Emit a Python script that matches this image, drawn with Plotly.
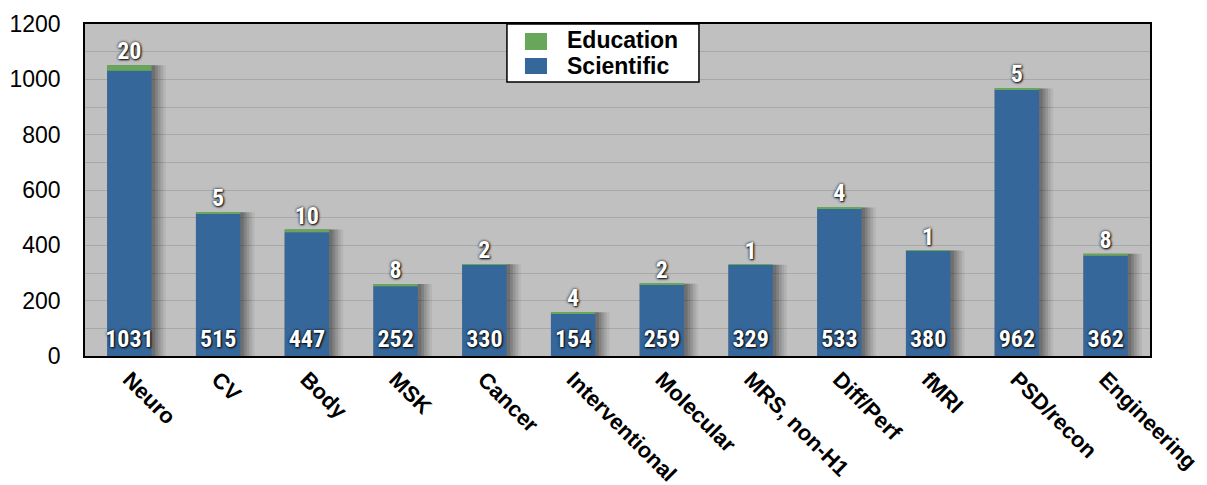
import plotly.graph_objects as go

categories = ["Neuro", "CV", "Body", "MSK", "Cancer", "Interventional", "Molecular",
              "MRS, non-H1", "Diff/Perf", "fMRI", "PSD/recon", "Engineering"]
scientific = [1031, 515, 447, 252, 330, 154, 259, 329, 533, 380, 962, 362]
education = [20, 5, 10, 8, 2, 4, 2, 1, 4, 1, 5, 8]
series_names = ["Education", "Scientific"]
totals = [s + e for s, e in zip(scientific, education)]

BLUE = "#36679b"
GREEN = "#68a659"
LABEL_FONT = "Liberation Sans Narrow, Roboto Condensed, DejaVu Sans Condensed, Arial Narrow, sans-serif"
SHADOW = "0px 0px 3px rgba(0,0,0,0.95), 1px 1px 2px rgba(0,0,0,0.9)"

fig = go.Figure()

# soft shadows behind bars
for wid, op in [(0.66, 0.06), (0.63, 0.08), (0.60, 0.10), (0.57, 0.12), (0.54, 0.14)]:
    fig.add_trace(go.Bar(
        x=categories, y=totals, width=wid, offset=-0.25,
        marker=dict(color=f"rgba(0,0,0,{op})", line=dict(width=0)),
        showlegend=False, hoverinfo="skip"))

fig.add_trace(go.Bar(
    x=categories, y=scientific, width=0.5, name=series_names[1],
    marker=dict(color=BLUE, line=dict(width=0)),
    text=[str(v) for v in scientific], textposition="inside", textangle=0,
    insidetextanchor="start", constraintext="none",
    textfont=dict(family=LABEL_FONT, size=24, color="white", weight="bold", shadow=SHADOW),
    showlegend=False))

fig.add_trace(go.Bar(
    x=categories, y=education, base=scientific, width=0.5, name=series_names[0],
    marker=dict(color=GREEN, line=dict(width=0)),
    showlegend=False))

fig.add_trace(go.Scatter(
    x=categories, y=totals, mode="text", text=[str(v) for v in education],
    textposition="top center",
    textfont=dict(family=LABEL_FONT, size=24, color="white", weight="bold", shadow=SHADOW),
    showlegend=False, hoverinfo="skip"))

# legend box (drawn in paper coordinates)
shapes = [
    dict(type="rect", xref="paper", yref="paper", x0=0.3962, x1=0.5765, y0=0.8253, y1=1.0,
         fillcolor="white", line=dict(color="black", width=1.5), layer="above"),
    dict(type="rect", xref="paper", yref="paper", x0=0.4131, x1=0.4338, y0=0.9217, y1=0.9729,
         fillcolor=GREEN, line=dict(width=0), layer="above"),
    dict(type="rect", xref="paper", yref="paper", x0=0.4131, x1=0.4338, y0=0.8494, y1=0.8976,
         fillcolor=BLUE, line=dict(width=0), layer="above"),
]
annotations = [
    dict(xref="paper", yref="paper", x=0.4507, y=0.9518, text=series_names[0],
         xanchor="left", yanchor="middle", showarrow=False,
         font=dict(size=23, weight="bold", color="black")),
    dict(xref="paper", yref="paper", x=0.4507, y=0.8735, text=series_names[1],
         xanchor="left", yanchor="middle", showarrow=False,
         font=dict(size=23, weight="bold", color="black")),
]

fig.update_layout(
    width=1199, height=477,
    margin=dict(l=77, r=57, t=16, b=129),
    barmode="overlay",
    paper_bgcolor="white",
    plot_bgcolor="#c0c0c0",
    font=dict(family="Liberation Sans, Arial, sans-serif", color="black"),
    showlegend=False,
    shapes=shapes,
    annotations=annotations,
)

fig.update_yaxes(
    range=[0, 1200], dtick=200, tick0=0,
    showgrid=True, gridcolor="#a8a8a8", gridwidth=1,
    minor=dict(dtick=100, showgrid=True, gridcolor="#a8a8a8", gridwidth=1),
    ticks="outside", ticklen=18, tickcolor="rgba(0,0,0,0)",
    tickfont=dict(size=23, color="black"),
    showline=True, linecolor="black", linewidth=1.5, mirror=True,
    zeroline=False, automargin=False,
)
fig.update_xaxes(
    tickangle=45,
    tickfont=dict(size=22, weight="bold", color="black"),
    showline=True, linecolor="black", linewidth=1.5, mirror=True,
    ticks="", range=[-0.5, 11.5], automargin=False,
)

fig.write_html("out.html")
